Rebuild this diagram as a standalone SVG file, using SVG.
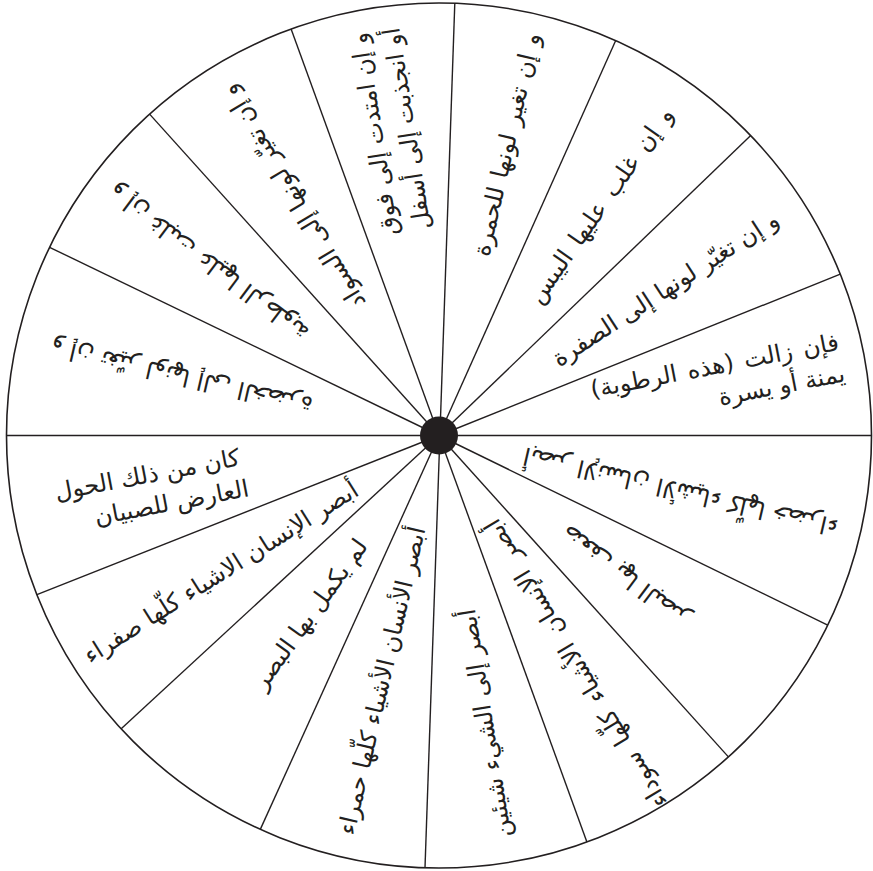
<svg xmlns="http://www.w3.org/2000/svg" width="873" height="871" viewBox="0 0 873 871">
<style>
.spoke{stroke:#231f20;stroke-width:1.4;fill:none}
.rim{stroke:#231f20;stroke-width:1.6;fill:#fff}
.t{font-family:"DejaVu Sans",sans-serif;font-size:24px;fill:#231f20}
</style>
<rect width="873" height="871" fill="#fff"/>
<circle id="rim" class="rim" cx="439" cy="435.5" r="432.5"/>
<g id="connectors">
<line class="spoke" x1="6.5" y1="435.5" x2="871.5" y2="435.5"/>
<line class="spoke" x1="439" y1="435.5" x2="840.3" y2="274.2"/>
<line class="spoke" x1="439" y1="435.5" x2="750.7" y2="135.6"/>
<line class="spoke" x1="439" y1="435.5" x2="615.6" y2="40.7"/>
<line class="spoke" x1="454.8" y1="3.3" x2="425.0" y2="867.8"/>
<line class="spoke" x1="439" y1="435.5" x2="291.1" y2="29.1"/>
<line class="spoke" x1="439" y1="435.5" x2="149.6" y2="114.1"/>
<line class="spoke" x1="439" y1="435.5" x2="49.6" y2="247.3"/>
<line class="spoke" x1="439" y1="435.5" x2="36.9" y2="594.7"/>
<line class="spoke" x1="439" y1="435.5" x2="121.2" y2="728.8"/>
<line class="spoke" x1="439" y1="435.5" x2="260.3" y2="829.4"/>
<line class="spoke" x1="439" y1="435.5" x2="586.9" y2="841.9"/>
<line class="spoke" x1="439" y1="435.5" x2="728.4" y2="756.9"/>
<line class="spoke" x1="439" y1="435.5" x2="827.7" y2="625.1"/>
</g>
<circle id="hub" cx="439" cy="435.5" r="19" fill="#231f20"/>
<g id="seg1" transform="translate(439,435.5) rotate(-10.95)"><text class="t" direction="rtl" text-anchor="start" x="410" y="-8" word-spacing="3">فإن زالت (هذه الرطوبة)</text><text class="t" direction="rtl" text-anchor="start" x="410" y="24">يمنة أو يسرة</text></g>
<g id="seg2" transform="translate(439,435.5) rotate(-32.9)"><text class="t" direction="rtl" text-anchor="start" x="402" y="8">و إن تغيّر لونها إلى الصفرة</text></g>
<g id="seg3" transform="translate(439,435.5) rotate(-54.9)"><text class="t" direction="rtl" text-anchor="start" x="398" y="8" font-size="25.5" word-spacing="4">و إن غلب عليها اليبس</text></g>
<g id="seg4" transform="translate(439,435.5) rotate(-76.9)"><text class="t" direction="rtl" text-anchor="start" x="413" y="8" word-spacing="2">و إن تغير لونها للحمرة</text></g>
<g id="seg5" transform="translate(439,435.5) rotate(-98.95)"><text class="t" direction="rtl" text-anchor="start" x="410" y="-9">و إن امتدت إلى فوق</text><text class="t" direction="rtl" text-anchor="start" x="410" y="24">أو انجذبت إلى أسفل</text></g>
<g id="seg6" transform="translate(439,435.5) rotate(-121)"><text class="t" direction="rtl" text-anchor="start" x="408" y="6">و إن تغيّر لونها إلى السواد</text></g>
<g id="seg7" transform="translate(439,435.5) rotate(-143.1)"><text class="t" direction="rtl" text-anchor="start" x="410" y="8">و إن غلبت عليها الرطوبة</text></g>
<g id="seg8" transform="translate(439,435.5) rotate(-167.1)"><text class="t" direction="rtl" text-anchor="start" x="398" y="8">و إن تغيّر لونها إلى الخضرة</text></g>
<g id="seg9" transform="translate(439,435.5) rotate(-10.8)"><text class="t" direction="rtl" text-anchor="start" x="-200" y="-8">كان من ذلك الحول</text><text class="t" direction="rtl" text-anchor="start" x="-197" y="24">العارض للصبيان</text></g>
<g id="seg10" transform="translate(439,435.5) rotate(-32.15)"><text class="t" direction="rtl" text-anchor="start" x="-98" y="8">أبصر الإنسان الاشياء كلّها صفراء</text></g>
<g id="seg11" transform="translate(439,435.5) rotate(-54.15)"><text class="t" direction="rtl" text-anchor="start" x="-131" y="8">لم يكمل بها البصر</text></g>
<g id="seg12" transform="translate(439,435.5) rotate(-76.9)"><text class="t" direction="rtl" text-anchor="start" x="-94" y="8">أبصر الأنسان الأشياء كلّها حمراء</text></g>
<g id="seg13" transform="translate(439,435.5) rotate(-99.1)"><text class="t" direction="rtl" text-anchor="start" x="-176" y="8">أبصر إلى الشيء شيئين</text></g>
<g id="seg14" transform="translate(439,435.5) rotate(-121)"><text class="t" direction="rtl" text-anchor="start" x="-100" y="8" word-spacing="4">أبصر الإنسان الأشياء كلّها سوداء</text></g>
<g id="seg15" transform="translate(439,435.5) rotate(-143)"><text class="t" direction="rtl" text-anchor="start" x="-157" y="8">ضعف بها البصر</text></g>
<g id="seg16" transform="translate(439,435.5) rotate(-167)"><text class="t" direction="rtl" text-anchor="start" x="-87" y="8">أبصر الإنسان الأشياء كلّها خضراء</text></g>
</svg>
